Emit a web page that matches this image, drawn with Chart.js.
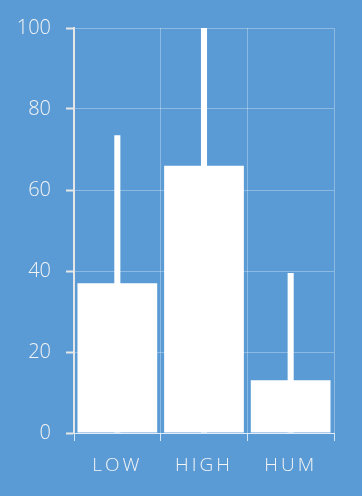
<!DOCTYPE html>
<html>
<head>
<meta charset="utf-8">
<script src="https://cdn.jsdelivr.net/npm/chart.js@4/dist/chart.umd.min.js"></script>
<style>
html,body{margin:0;padding:0;background:#5a9bd5;}
#wrap{width:362px;height:496px;position:relative;}
</style>
</head>
<body>
<div id="wrap"><canvas id="c" width="362" height="496"></canvas></div>
<script>
const categories = ["LOW", "HIGH", "HUM"];
const mainValues = [37, 66, 13];
const peakValues = [73.5, 100, 39.5];
const yTicks = [0, 20, 40, 60, 80, 100];

const letterSpacingPlugin = {
  id: 'xLetterSpacing',
  beforeDraw(chart) {
    const xs = chart.scales.x;
    if (!xs._patched) {
      const orig = xs.drawLabels.bind(xs);
      xs.drawLabels = function(area) {
        const ctx = this.ctx;
        ctx.save();
        ctx.letterSpacing = '3px';
        orig(area);
        ctx.restore();
      };
      xs._patched = true;
    }
  }
};

new Chart(document.getElementById('c'), {
  type: 'bar',
  data: {
    labels: categories,
    datasets: [
      {
        data: mainValues,
        backgroundColor: '#ffffff',
        borderWidth: 0,
        categoryPercentage: 1,
        barPercentage: 0.92,
        order: 1
      },
      {
        data: peakValues,
        backgroundColor: '#ffffff',
        borderWidth: 0,
        categoryPercentage: 1,
        barPercentage: 0.07,
        order: 2
      }
    ]
  },
  options: {
    responsive: false,
    animation: false,
    devicePixelRatio: 1,
    layout: { padding: { top: 28, right: 28, left: 0, bottom: 0 } },
    plugins: { legend: { display: false }, tooltip: { enabled: false } },
    datasets: { bar: { grouped: false } },
    scales: {
      x: {
        grid: {
          offset: true,
          color: 'rgba(255,255,255,0.3)',
          lineWidth: 1,
          tickLength: 8,
          tickColor: 'rgba(255,255,255,0.75)',
          tickWidth: 1
        },
        border: { display: true, color: 'rgba(255,255,255,0.75)', width: 1 },
        ticks: {
          color: '#f4f4f4',
          padding: 13,
          font: { family: 'Open Sans', size: 19, weight: 300 }
        },
        afterFit(scale) { scale.height = 63; }
      },
      y: {
        min: 0,
        max: 100,
        afterBuildTicks(scale) { scale.ticks = yTicks.map(v => ({ value: v })); },
        grid: {
          color: 'rgba(255,255,255,0.3)',
          lineWidth: 1,
          tickLength: 8,
          tickColor: '#e6e6e6',
          tickWidth: 2
        },
        border: { display: true, color: '#e6e6e6', width: 2 },
        ticks: {
          color: '#f4f4f4',
          padding: 15,
          font: { family: 'Open Sans', size: 20, weight: 300 }
        },
        afterFit(scale) { scale.width = 74; }
      }
    }
  },
  plugins: [letterSpacingPlugin]
});
</script>
</body>
</html>
